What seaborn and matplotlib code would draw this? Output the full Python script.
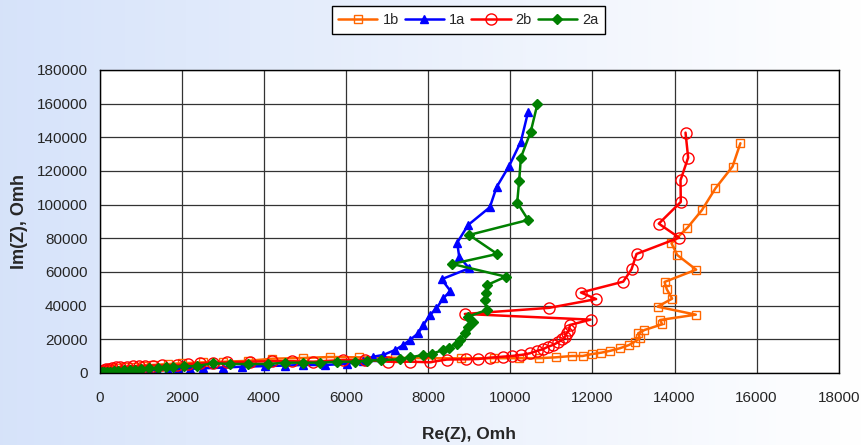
import numpy as np
import pandas as pd
import matplotlib
matplotlib.use("Agg")
import matplotlib.pyplot as plt
import seaborn as sns

sns.set_style("white")
plt.rcParams["font.family"] = ["Liberation Sans", "DejaVu Sans"]

# series 1b (orange, open squares)
re_1b = [0, 40, 90, 150, 250, 400, 600, 800, 1050, 1300, 1650, 2000, 2500, 3000, 3600,
         4200, 4950, 5600, 6300, 7200, 8000, 8800,
         9600, 10200, 10700, 11100, 11500, 11760, 12000, 12220, 12420, 12670, 12890,
         13030, 13155, 13113, 13268, 13699, 13650, 14519, 13586, 13942, 13812, 13756,
         14527, 14065, 13926, 14316, 14665, 14998, 15413, 15605]
im_1b = [0, 700, 1100, 1500, 2100, 2800, 3300, 3800, 4300, 4800, 5300, 5800, 6300, 6700, 7200,
         8500, 8900, 9500, 9300, 9000, 8800, 8700,
         8800, 8800, 8800, 9300, 10100, 10100, 11300, 12100, 13100, 14700, 16600,
         18600, 20600, 23570, 25550, 28920, 31490, 34650, 39400, 44150, 49710, 54070,
         61380, 70110, 77060, 86340, 96660, 109740, 122600, 136480]

# series 1a (blue, triangles)
re_1a = [0, 30, 70, 120, 200, 300, 450, 600, 800, 1000, 1200, 1380, 1650, 1900, 2200, 2520,
         3000, 3450, 4020, 4500, 4950, 5480, 6010,
         6400, 6660, 6900, 7190, 7390, 7550, 7755, 7880, 8040, 8200, 8363, 8540, 8323,
         8997, 8753, 8704, 8972, 9500, 9663, 9971, 10256, 10434]
im_1a = [0, 300, 550, 750, 900, 1000, 1150, 1300, 1400, 1500, 1650, 1780, 2000, 2200, 2500, 2790,
         3200, 3740, 4100, 4400, 4750, 4750, 5500,
         7000, 9700, 10700, 13670, 16640, 19610, 23570, 28520, 34460, 38440, 44360, 48720,
         55680, 62200, 69100, 77420, 87940, 98450, 110340, 123000, 137430, 155260]

# series 2b (red, open circles)
re_2b = [0, 20, 50, 90, 150, 220, 300, 400, 500, 650, 800, 950, 1100, 1300, 1500, 1870, 2150,
         2440, 2750, 3100, 3650, 4180, 4670, 5200,
         5930, 6460, 7020, 7550, 8040, 8450, 8930, 9215, 9500, 9810, 10030, 10270, 10475,
         10640, 10800, 10920, 11040, 11160, 11270, 11330, 11370, 11433, 11449, 11953, 8891,
         10946, 12090, 11720, 12750, 12952, 13074, 14112, 13617, 14153, 14146, 14332, 14268]
im_2b = [0, 600, 1200, 1700, 2200, 2600, 3000, 3300, 3500, 3800, 4000, 4150, 4300, 4400, 4500,
         4750, 5200, 5760, 6000, 6300, 6710, 7000, 7000,
         6710, 7720, 7720, 6710, 6710, 6400, 8000, 8140, 8300, 9100, 9690, 10100, 10700,
         11700, 13070, 14200, 15630, 16640, 18240, 19900, 21570, 23570, 25550, 28520, 31700,
         35060, 38700, 43900, 47800, 54250, 61610, 70710, 80390, 88710, 101600, 114500,
         127930, 142780]

# series 2a (green, diamonds)
re_2a = [0, 20, 50, 100, 170, 244, 330, 450, 580, 731, 860, 1000, 1200, 1420, 1600, 1790, 2050,
         2355, 2760, 3170, 3610, 4100, 4510, 4950,
         5360, 5770, 6210, 6500, 6860, 7310, 7550, 7876, 8100, 8363, 8500, 8689, 8769, 8891,
         8972, 9094, 8972, 9420, 9379, 9403, 9435, 9890, 8582, 9679, 8997, 10434, 10166,
         10215, 10256, 10497, 10660]
im_2a = [0, 150, 300, 400, 600, 770, 1000, 1300, 1550, 1780, 2000, 2300, 2700, 3000, 3400,
         3740, 3950, 4160, 5760, 5350, 5350, 5350, 6120,
         6120, 6120, 6710, 6710, 7300, 7720, 8140, 9270, 10700, 11500, 13670, 15000, 17500,
         19610, 23570, 27510, 30480, 33450, 37430, 43370, 47350, 52290, 57220, 64770, 70710,
         82000, 90910, 101190, 114270, 127930, 143390, 159830]

x_ticks = list(range(0, 18001, 2000))
y_ticks = list(range(0, 180001, 20000))

fig = plt.figure(figsize=(8.64, 4.45), dpi=100)

# light blue gradient background
bg = fig.add_axes([0, 0, 1, 1], zorder=-10)
grad = np.linspace(0, 1, 256)
left_c = np.array([0.84, 0.89, 0.98])
cols = left_c[None, :] * (1 - grad[:, None]) + np.array([1.0, 1.0, 1.0])[None, :] * grad[:, None]
bg.imshow(cols[None, :, :], aspect="auto", extent=[0, 1, 0, 1])
bg.set_axis_off()

ax = fig.add_axes([0.1157, 0.1618, 0.855, 0.681])
ax.set_facecolor("white")

series = [
    ("1b", re_1b, im_1b, "#FF6600", "s", "none", 6),
    ("1a", re_1a, im_1a, "#0000FF", "^", "#0000FF", 6),
    ("2b", re_2b, im_2b, "#FF0000", "o", "none", 8),
    ("2a", re_2a, im_2a, "#008000", "D", "#008000", 5.5),
]
for name, xs, ys, c, m, fc, ms in series:
    sns.lineplot(x=xs, y=ys, sort=False, estimator=None, ax=ax, color=c, lw=1.8,
                 marker=m, markersize=ms, markerfacecolor=fc, markeredgecolor=c,
                 markeredgewidth=1.0, label=name)

ax.set_xlim(0, 18000)
ax.set_ylim(0, 180000)
ax.set_xticks(x_ticks)
ax.set_yticks(y_ticks)
ax.set_xticklabels([str(t) for t in x_ticks], fontsize=11)
ax.set_yticklabels([str(t) for t in y_ticks], fontsize=11)
ax.grid(True, color="#333333", linewidth=0.9)
ax.tick_params(axis="both", direction="out", length=5, width=0.9, color="black", pad=4)
ax.tick_params(axis="x", pad=8)
for s in ax.spines.values():
    s.set_color("black")
    s.set_linewidth(1.0)

ax.set_xlabel("Re(Z), Omh", fontsize=12.5, fontweight="bold", labelpad=16)
ax.set_ylabel("Im(Z), Omh", fontsize=13, fontweight="bold", labelpad=6)

leg = ax.legend(loc="center", bbox_to_anchor=(0.542, 0.955), bbox_transform=fig.transFigure,
                ncol=4, frameon=True, fancybox=False, fontsize=10.5, handlelength=2.7,
                columnspacing=0.4, handletextpad=0.35, borderpad=0.45)
leg.get_frame().set_edgecolor("black")
leg.get_frame().set_linewidth(1.0)
leg.get_frame().set_facecolor("white")
leg.get_frame().set_alpha(1)

fig.savefig("out.png", dpi=100)
